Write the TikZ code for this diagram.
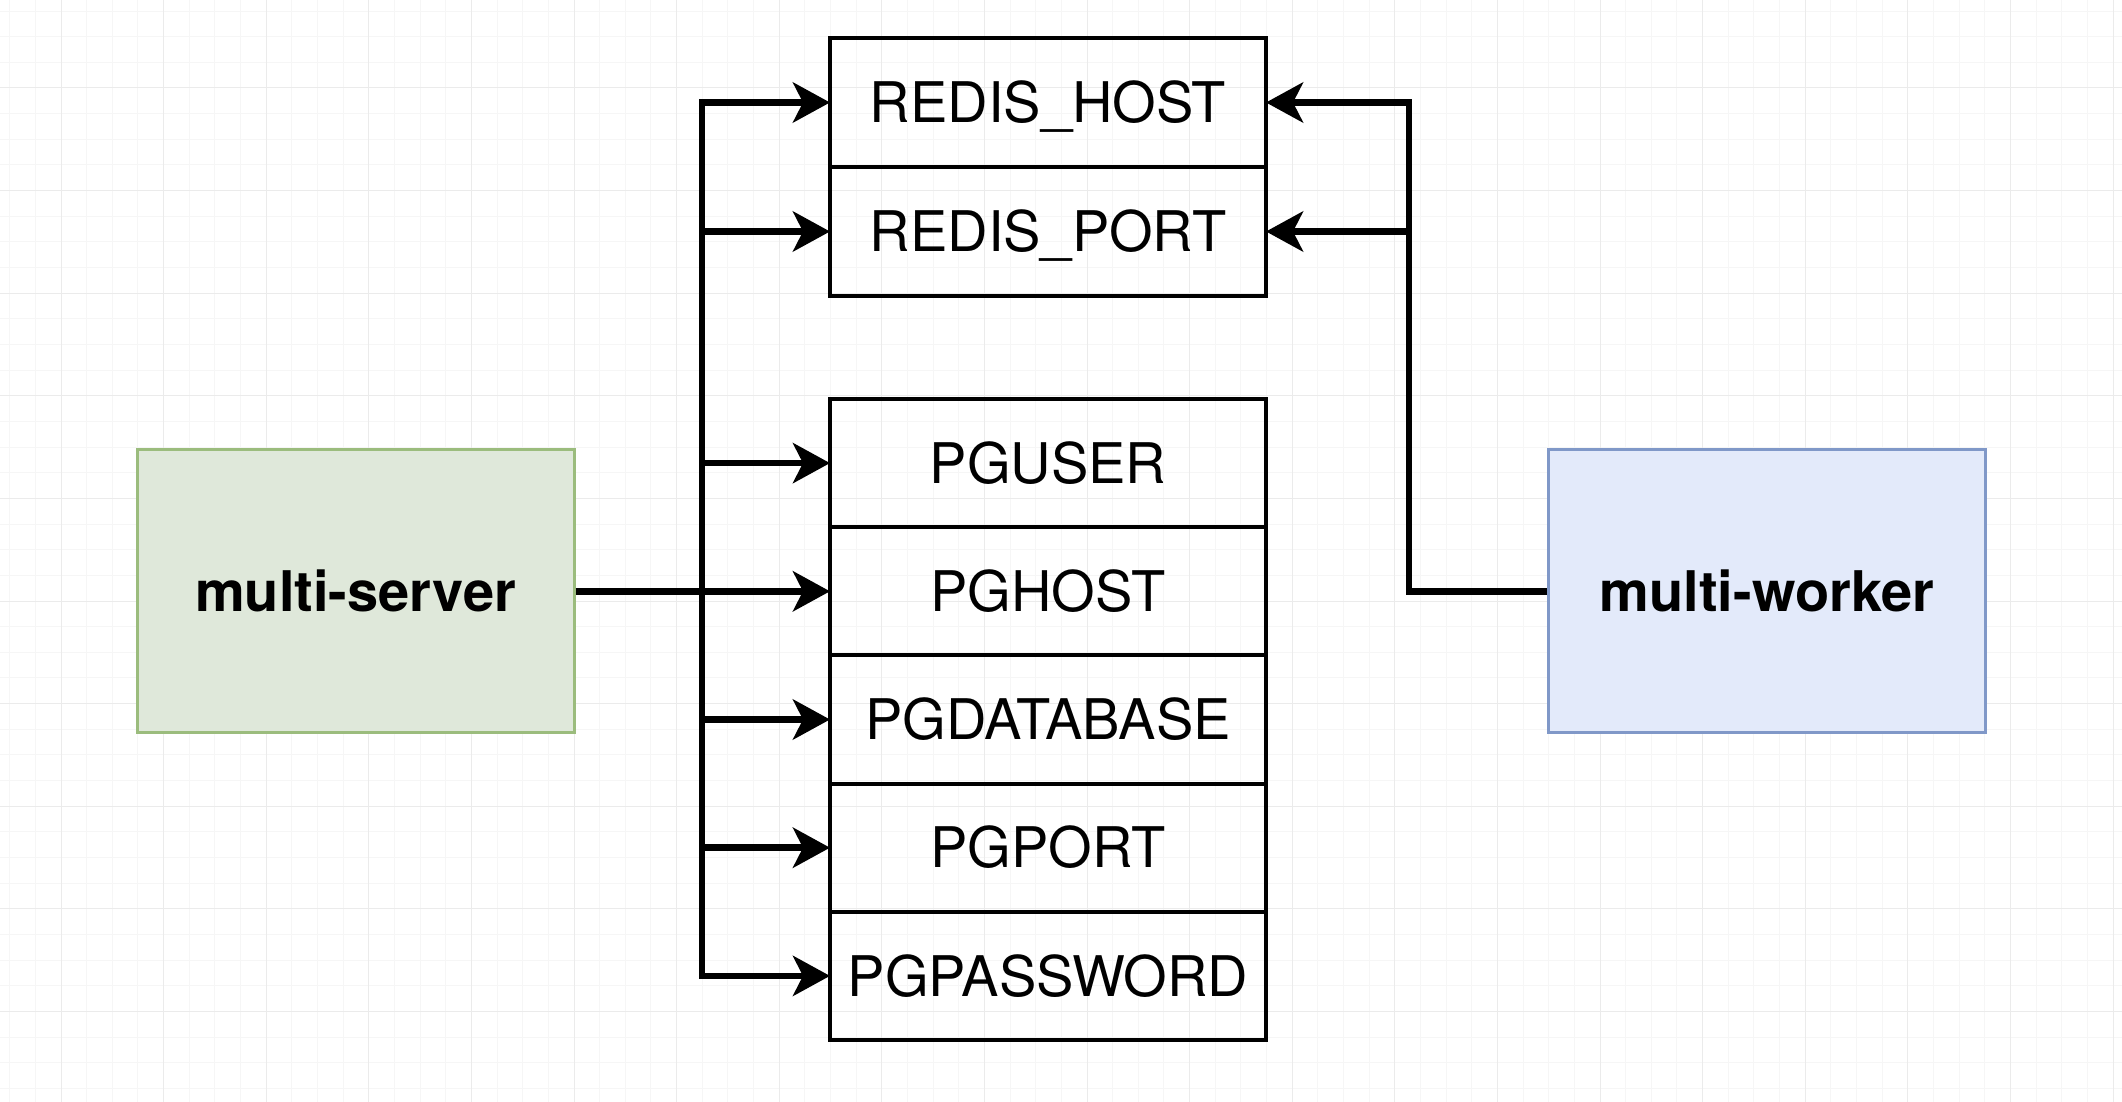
\documentclass[tikz,border=0pt]{standalone}
\usepackage{fontspec}
\setmainfont{TeX Gyre Heros}
\usetikzlibrary{arrows.meta}

\definecolor{serverfill}{RGB}{223,232,218}
\definecolor{serverdraw}{RGB}{155,188,125}
\definecolor{workerfill}{RGB}{227,234,250}
\definecolor{workerdraw}{RGB}{128,152,200}
\definecolor{gridmajor}{RGB}{235,235,235}
\definecolor{gridminor}{RGB}{246,246,246}

\begin{document}
\begin{tikzpicture}[
    x=0.5pt,
    y=-0.5pt,
    every node/.style={font=\fontsize{28}{34}\selectfont, text height=20.1pt, text depth=0pt},
    varbox/.style={draw, line width=1.9pt, minimum width=218pt,
                   minimum height=64.2pt, inner sep=0pt, outer sep=0pt},
    appbox/.style={draw, line width=1.5pt, minimum width=218.5pt,
                   minimum height=141.5pt, font=\fontsize{28}{34}\selectfont\bfseries},
    link/.style={line width=3.3pt, -{Stealth[length=18.5pt, width=20pt, inset=5pt]}},
    linkboth/.style={line width=3.3pt, {Stealth[length=18.5pt, width=20pt, inset=5pt]}-{Stealth[length=18.5pt, width=20pt, inset=5pt]}}]

    \useasboundingbox (0,0) rectangle (2122,1102);

    % Background grid
    \fill[white] (0,0) rectangle (2122,1102);
    \foreach \i in {0,...,82} {
      \draw[gridminor, line width=0.5pt] ({9.7+\i*25.65},0) -- ({9.7+\i*25.65},1102);
    }
    \foreach \j in {0,...,42} {
      \draw[gridminor, line width=0.5pt] (0,{11.05+\j*25.65}) -- (2122,{11.05+\j*25.65});
    }
    \foreach \i in {0,...,20} {
      \draw[gridmajor, line width=0.5pt] ({61+\i*102.6},0) -- ({61+\i*102.6},1102);
    }
    \foreach \j in {0,...,9} {
      \draw[gridmajor, line width=0.5pt] (0,{88+\j*102.6}) -- (2122,{88+\j*102.6});
    }

    % Apps
    \node[appbox, fill=serverfill, draw=serverdraw] (server) at (355.5, 591.3) {multi-server};
    \node[appbox, fill=workerfill, draw=workerdraw] (worker) at (1767, 591.3) {multi-worker};

    % Redis variables
    \foreach \name/\txt/\y in {redishost/REDIS\_HOST/102.5, redisport/REDIS\_PORT/231.5} {
      \node[varbox] (\name) at (1048, \y) {\txt};
    }

    % Postgres variables
    \foreach \name/\txt/\y in {pguser/PGUSER/463.1, pghost/PGHOST/591.3,
                               pgdatabase/PGDATABASE/719.5, pgport/PGPORT/847.7,
                               pgpassword/PGPASSWORD/975.9} {
      \node[varbox] (\name) at (1048, \y) {\txt};
    }

    % Server links
    \coordinate (lbus) at (702, 591.3);
    \draw[link] (server.east) -- (pghost.west);
    \draw[linkboth] (redishost.west) -| (lbus) |- (pgpassword.west);
    \foreach \n in {redisport, pguser, pgdatabase, pgport} {
      \draw[link] (lbus |- \n.west) -- (\n.west);
    }

    % Worker links
    \coordinate (rbus) at (1409, 102.5);
    \draw[link] (worker.west) -| (rbus) -- (redishost.east);
    \draw[link] (rbus |- redisport.east) -- (redisport.east);
  \end{tikzpicture}
\end{document}
